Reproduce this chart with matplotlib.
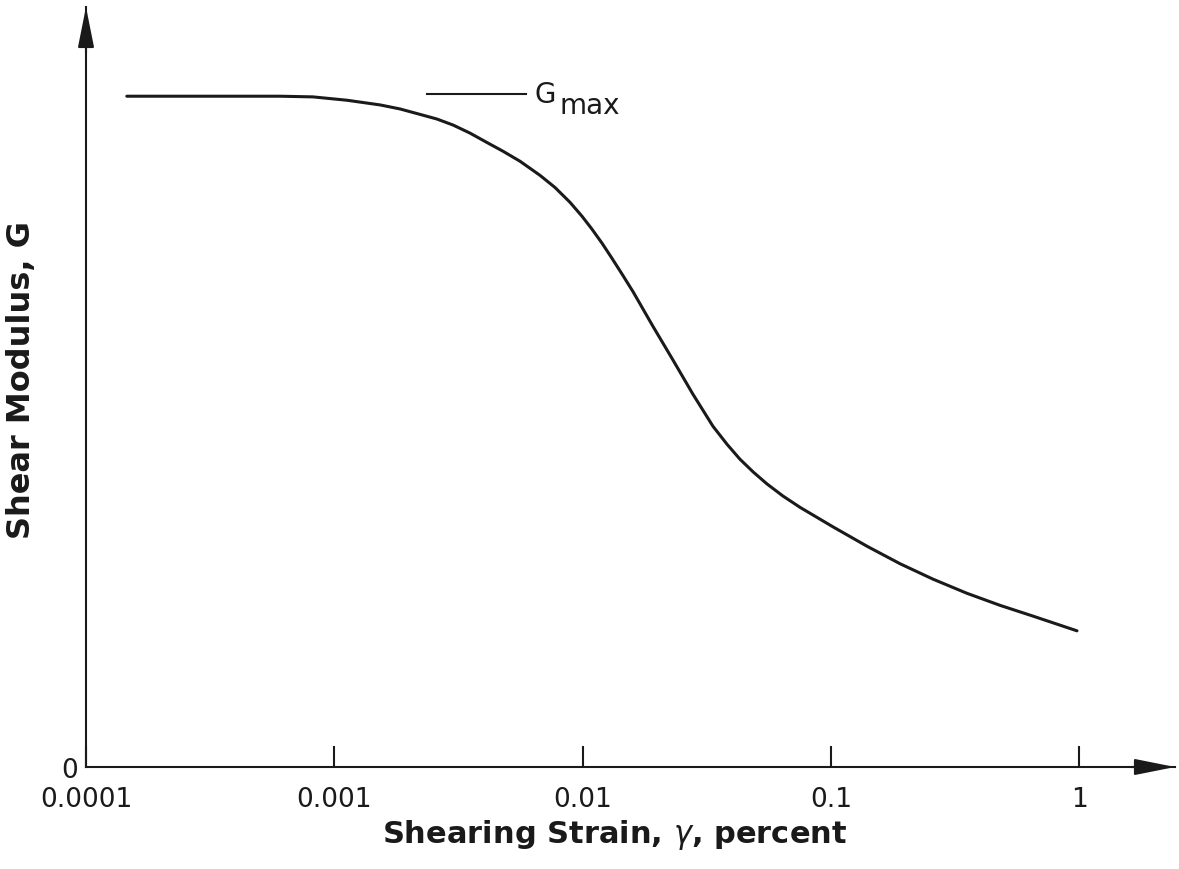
import numpy as np
import matplotlib
matplotlib.use('Agg')
import matplotlib.pyplot as plt
import matplotlib.transforms as mtransforms

# Modulus reduction curve (G as a fraction of Gmax)
strain = [1.46e-4, 2.88e-4, 6.04e-4, 8.2e-4, 1.125e-3, 1.53e-3, 1.84e-3, 2.21e-3,
          2.59e-3, 3.01e-3, 3.52e-3, 4.12e-3, 4.78e-3, 5.6e-3, 6.74e-3, 7.74e-3,
          8.89e-3, 9.95e-3, 1.09e-2, 1.197e-2, 1.31e-2, 1.441e-2, 1.6e-2, 1.92e-2,
          2.31e-2, 2.78e-2, 3.35e-2, 3.82e-2, 4.3e-2, 4.86e-2, 5.53e-2, 6.41e-2,
          7.52e-2, 0.102, 0.14, 0.19, 0.258, 0.353, 0.48, 0.651, 0.98]
g_ratio = [1.0, 1.0, 1.0, 0.999, 0.994, 0.987, 0.981, 0.973,
           0.966, 0.957, 0.945, 0.931, 0.918, 0.903, 0.882, 0.864,
           0.842, 0.821, 0.802, 0.781, 0.759, 0.735, 0.708, 0.657,
           0.607, 0.556, 0.508, 0.481, 0.459, 0.440, 0.422, 0.404,
           0.387, 0.358, 0.329, 0.303, 0.280, 0.259, 0.241, 0.225, 0.203]

tick_vals = [1e-4, 1e-3, 1e-2, 1e-1, 1]
tick_labels = ['0.0001', '0.001', '0.01', '0.1', '1']

gmax_line_x = [2.36e-3, 5.9e-3]
gmax_line_y = 1.003

ink = '#1a1a1a'

fig = plt.figure(figsize=(11.79, 8.70), dpi=100)
ax = fig.add_axes([86 / 1179, 102 / 870, 1089 / 1179, 760 / 870])

ax.plot(strain, g_ratio, color=ink, linewidth=2.2,
        solid_capstyle='round', solid_joinstyle='round')
ax.set_xscale('log')
ax.set_xlim(1e-4, 10 ** 0.386)
ax.set_ylim(0, 1.133)

# axes: only left and bottom, with arrowheads
ax.spines['top'].set_visible(False)
ax.spines['right'].set_visible(False)
for s in ['left', 'bottom']:
    ax.spines[s].set_linewidth(1.5)
    ax.spines[s].set_color(ink)
arrow = dict(arrowstyle='-|>,head_length=1.25,head_width=0.25',
             mutation_scale=20, color=ink, lw=1.5, shrinkA=0, shrinkB=0)
ax.annotate('', xy=(1.0, 0), xytext=(0.96, 0), xycoords='axes fraction', arrowprops=arrow)
ax.annotate('', xy=(0, 1.0), xytext=(0, 0.94), xycoords='axes fraction', arrowprops=arrow)

ax.set_xticks(tick_vals)
ax.set_xticklabels(tick_labels)
ax.xaxis.set_minor_locator(matplotlib.ticker.NullLocator())
ax.tick_params(axis='x', direction='in', length=15, width=1.5, pad=14,
               labelsize=19, colors=ink)
ax.set_yticks([0])
ax.set_yticklabels(['0'])
ax.tick_params(axis='y', length=0, pad=6, labelsize=19, colors=ink)

# axis titles
trans = mtransforms.blended_transform_factory(ax.transData, fig.transFigure)
ax.text(0.0135, 1 - 835 / 870, 'Shearing Strain, $\\gamma$, percent', transform=trans,
        ha='center', va='center', fontsize=22, fontweight='bold', color=ink)
fig.text(22 / 1179, 1 - 380 / 870, 'Shear Modulus, G', rotation=90,
         ha='center', va='center', fontsize=23, fontweight='bold', color=ink)

# Gmax label
ax.plot(gmax_line_x, [gmax_line_y] * 2, color=ink, linewidth=1.5)
ax.text(6.43e-3, gmax_line_y, 'G', ha='left', va='center', fontsize=20, color=ink)
ax.text(8.1e-3, gmax_line_y - 0.016, 'max', ha='left', va='center', fontsize=20, color=ink)

fig.savefig('out.png', dpi=100, facecolor='white')
